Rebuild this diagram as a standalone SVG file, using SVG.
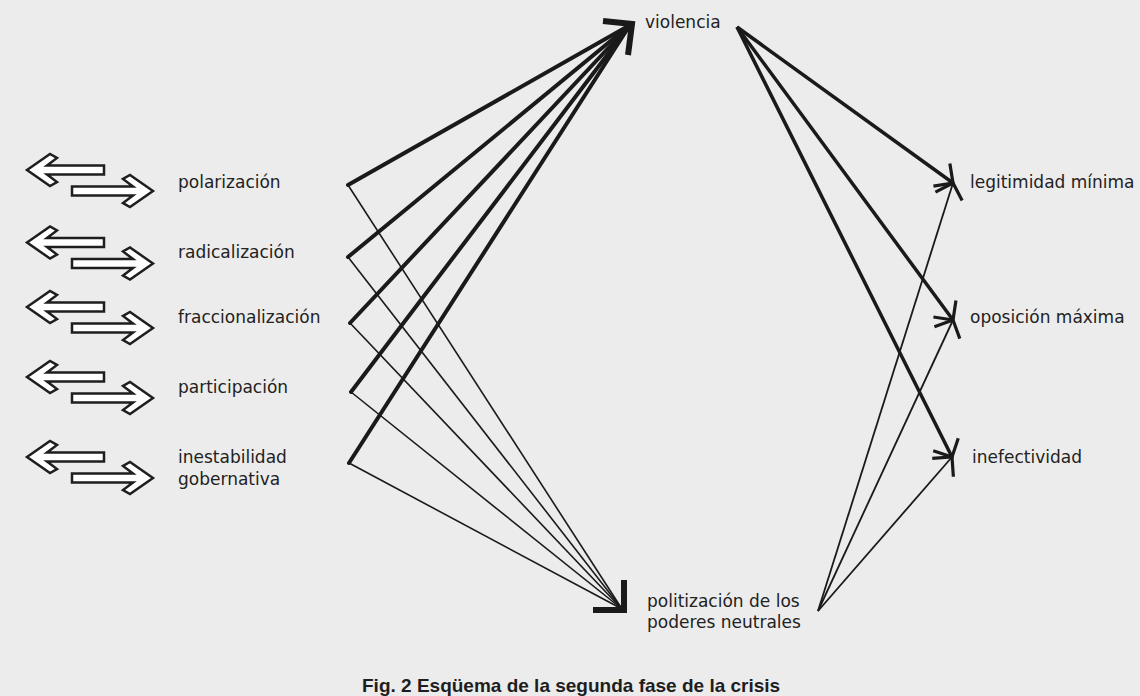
<svg xmlns="http://www.w3.org/2000/svg" xmlns:xlink="http://www.w3.org/1999/xlink" width="1140" height="696" viewBox="0 0 1140 696">
<style>
.lbl{font-family:"DejaVu Sans","Liberation Sans",sans-serif;font-size:17px;fill:#222222}
.cap{font-family:"Liberation Sans","DejaVu Sans",sans-serif;font-size:19px;font-weight:bold;fill:#1e1e1e}
.thick{stroke:#1a1a1a;stroke-width:4;fill:none;stroke-linecap:round}
.thin{stroke:#1a1a1a;stroke-width:1.6;fill:none}
.mid{stroke:#1a1a1a;stroke-width:3.5;fill:none}
.thinr{stroke:#1a1a1a;stroke-width:1.8;fill:none}
.head{stroke:#1a1a1a;stroke-width:6;fill:none;stroke-linejoin:miter}
.ico{fill:#ffffff;stroke:#1e1e1e;stroke-width:2.5;stroke-linejoin:miter}
</style>
<defs>
<marker id="ah" markerUnits="userSpaceOnUse" markerWidth="40" markerHeight="40" viewBox="-25 -20 30 40" refX="0" refY="0" orient="auto" overflow="visible">
<path d="M-14,-14 L0,0 L-14,14" fill="none" stroke="#1a1a1a" stroke-width="3.2"/>
</marker>
<g id="dbl">
<polygon class="ico" points="27,0 50,-16 57,-12 47,-4.5 104,-4.5 104,4.5 47,4.5 57,12 50,16"/>
<polygon class="ico" points="153,21 130,5 123,9 133,16.5 72,16.5 72,25.5 133,25.5 123,33 130,37"/>
</g>
</defs>
<rect x="0" y="0" width="1140" height="696" fill="#ececec"/>

<g id="connectors">
<line class="thick" x1="348" y1="185" x2="630" y2="25"/>
<line class="thick" x1="348" y1="257" x2="630" y2="25"/>
<line class="thick" x1="350" y1="323" x2="630" y2="25"/>
<line class="thick" x1="351" y1="392" x2="630" y2="25"/>
<line class="thick" x1="349" y1="463" x2="630" y2="25"/>
<line class="thin" x1="348" y1="185" x2="622" y2="609"/>
<line class="thin" x1="348" y1="257" x2="622" y2="609"/>
<line class="thin" x1="350" y1="323" x2="622" y2="609"/>
<line class="thin" x1="351" y1="392" x2="622" y2="609"/>
<line class="thin" x1="349" y1="463" x2="622" y2="609"/>
<polyline class="head" points="603,21 632,24 628,55"/>
<polyline class="head" points="593,610 624,610 624,580"/>
<line class="mid" x1="737" y1="27" x2="953" y2="183" marker-end="url(#ah)"/>
<line class="mid" x1="737" y1="27" x2="953" y2="320" marker-end="url(#ah)"/>
<line class="mid" x1="737" y1="27" x2="952" y2="457" marker-end="url(#ah)"/>
<line class="thinr" x1="818" y1="611" x2="953" y2="183" marker-end="url(#ah)"/>
<line class="thinr" x1="818" y1="611" x2="953" y2="320" marker-end="url(#ah)"/>
<line class="thinr" x1="818" y1="611" x2="952" y2="457" marker-end="url(#ah)"/>
</g>

<g id="polarizacion">
<use xlink:href="#dbl" href="#dbl" transform="translate(0,170)"/>
<text class="lbl" x="178" y="188">polarización</text>
</g>
<g id="radicalizacion">
<use xlink:href="#dbl" href="#dbl" transform="translate(0,242.5)"/>
<text class="lbl" x="178" y="258">radicalización</text>
</g>
<g id="fraccionalizacion">
<use xlink:href="#dbl" href="#dbl" transform="translate(0,307)"/>
<text class="lbl" x="178" y="323">fraccionalización</text>
</g>
<g id="participacion">
<use xlink:href="#dbl" href="#dbl" transform="translate(0,377)"/>
<text class="lbl" x="178" y="393">participación</text>
</g>
<g id="inestabilidad">
<use xlink:href="#dbl" href="#dbl" transform="translate(0,457)"/>
<text class="lbl" x="178" y="463">inestabilidad</text>
<text class="lbl" x="178" y="485">gobernativa</text>
</g>
<g id="violencia">
<text class="lbl" x="645" y="28">violencia</text>
</g>
<g id="politizacion">
<text class="lbl" x="647" y="607">politización de los</text>
<text class="lbl" x="647" y="628">poderes neutrales</text>
</g>
<g id="legitimidad">
<text class="lbl" x="970" y="188">legitimidad mínima</text>
</g>
<g id="oposicion">
<text class="lbl" x="970" y="323">oposición máxima</text>
</g>
<g id="inefectividad">
<text class="lbl" x="972" y="463">inefectividad</text>
</g>
<g id="caption">
<text class="cap" x="362" y="692">Fig. 2  Esqüema de la segunda fase de la crisis</text>
</g>
</svg>
